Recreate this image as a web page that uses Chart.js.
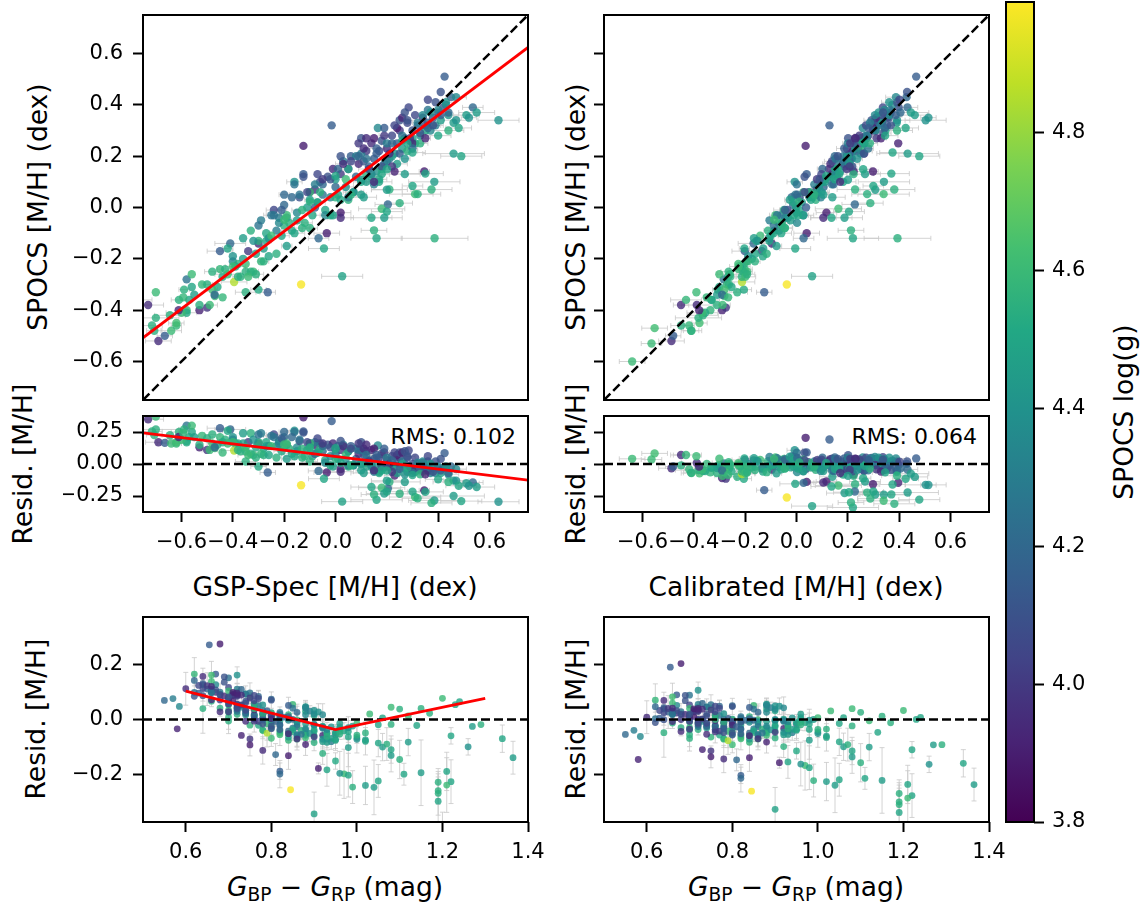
<!DOCTYPE html>
<html>
<head>
<meta charset="utf-8">
<script src="https://cdn.jsdelivr.net/npm/chart.js@4.4.1/dist/chart.umd.min.js"></script>
<style>
  html, body { margin: 0; padding: 0; background: #fff; }
  body { width: 1141px; height: 911px; position: relative; overflow: hidden; font-family: 'DejaVu Sans', sans-serif; color: #000; }
  canvas { position: absolute; }
  .lbl { position: absolute; font-size: 26.5px; line-height: 1; white-space: nowrap; transform: translate(-50%, -50%); }
  .rot { transform: translate(-50%, -50%) rotate(-90deg); }
  .rms { position: absolute; font-size: 22px; line-height: 1; white-space: nowrap; transform: translate(-100%, -50%); }
  .lbl sub { font-size: 70%; vertical-align: -0.3em; line-height: 0; }
</style>
</head>
<body>

<div class="lbl rot" style="left:38px;top:207px">SPOCS [M/H] (dex)</div>
<div class="lbl rot" style="left:576px;top:207px">SPOCS [M/H] (dex)</div>
<div class="lbl rot" style="left:23px;top:464px">Resid. [M/H]</div>
<div class="lbl rot" style="left:576px;top:464px">Resid. [M/H]</div>
<div class="lbl rot" style="left:36px;top:719px">Resid. [M/H]</div>
<div class="lbl rot" style="left:576px;top:719px">Resid. [M/H]</div>
<div class="lbl" style="left:335px;top:587px">GSP-Spec [M/H] (dex)</div>
<div class="lbl" style="left:796px;top:587px">Calibrated [M/H] (dex)</div>
<div class="lbl" style="left:335px;top:887px"><i>G</i><sub>BP</sub> − <i>G</i><sub>RP</sub> (mag)</div>
<div class="lbl" style="left:796px;top:887px"><i>G</i><sub>BP</sub> − <i>G</i><sub>RP</sub> (mag)</div>
<div class="lbl rot" style="left:1124px;top:412px">SPOCS log(g)</div>
<div class="rms" style="left:516px;top:437px">RMS: 0.102</div>
<div class="rms" style="left:977px;top:437px">RMS: 0.064</div>

<script>
// one entry per star, same order in every array
const gspMH = [
  -0.73, -0.69, -0.665, -0.64, -0.62, -0.62, -0.645, -0.61, -0.58, -0.58,
  -0.58, -0.59, -0.56, -0.53, -0.50, -0.53, -0.49, -0.52, -0.50, -0.47,
  -0.46, -0.48, -0.45, -0.43, -0.55, -0.57, -0.70, -0.60, -0.41, -0.45,
  -0.40, -0.40, -0.38, -0.35, -0.32, -0.35, -0.30, -0.34, -0.30, -0.33,
  -0.27, -0.27, -0.24, -0.20, -0.25, -0.22, -0.19, -0.15, -0.15, -0.36,
  -0.39, -0.44, -0.42, -0.31, -0.28, -0.26, -0.23, -0.21, -0.18, -0.17,
  -0.395, -0.33, -0.37, -0.29, -0.134, -0.264, -0.125, -0.015, -0.16, -0.16,
  -0.125, -0.125, -0.10, -0.08, -0.06, -0.05, -0.03, -0.01, 0.00, 0.02,
  0.03, 0.05, 0.06, 0.08, 0.09, -0.11, -0.09, -0.07, -0.04, -0.02,
  0.01, 0.04, 0.07, 0.02, 0.02, -0.034, -0.066, -0.045, 0.026, -0.13,
  -0.19, -0.12, 0.10, 0.05, 0.08, -0.14, -0.08, 0.00, 0.04, -0.06,
  0.11, 0.12, 0.13, 0.14, 0.15, 0.16, 0.17, 0.18, 0.19, 0.20,
  0.21, 0.22, 0.23, 0.24, 0.25, 0.26, 0.27, 0.28, 0.29, 0.30,
  0.31, 0.32, 0.33, 0.34, 0.12, 0.14, 0.16, 0.18, 0.20, 0.22,
  0.24, 0.26, 0.28, 0.30, 0.165, 0.10, 0.285, 0.25, 0.17, 0.23,
  0.27, 0.21, 0.204, 0.18, 0.14, 0.19, 0.16, 0.386, 0.11, 0.15,
  0.36, 0.37, 0.38, 0.39, 0.40, 0.41, 0.425, 0.42, 0.44, 0.45,
  0.46, 0.47, 0.48, 0.46, 0.49, 0.535, 0.635, 0.346, 0.385, 0.374,
  0.31, 0.32, 0.51, 0.52, 0.55, 0.43, 0.39, 0.36, -0.30, -0.10,
  0.05, -0.20, 0.12, -0.40, 0.26, 0.00, 0.35, -0.25, -0.05, 0.10,
  -0.22, 0.30,
  -0.984, -0.90, -0.916, -0.79, -0.715, -0.706, -0.775, -0.70, -0.611, -0.593,
  -0.56, -0.471,
  -0.48, -0.44, -0.42, -0.38, -0.36, -0.34, -0.32, -0.31, -0.29, -0.28,
  -0.26, -0.24, -0.23, -0.21, -0.19, -0.17, -0.16, -0.14, -0.13, -0.11,
  -0.10, -0.08, -0.07, -0.05, -0.04, -0.02, -0.01, 0.01, 0.02, 0.03,
  0.05, 0.06, 0.07, 0.09, 0.10, 0.11, 0.12, 0.13, 0.14, 0.15,
  0.16, 0.17, 0.18, 0.19, 0.20, 0.21, 0.22, 0.23, 0.24, 0.25,
  0.26, 0.27, 0.28, 0.29, 0.30, 0.31, 0.32, 0.33, 0.34, 0.35,
  0.36, 0.37, 0.38, 0.40, 0.41, 0.43, 0.44, 0.47, 0.33, 0.28,
  0.18, 0.06, -0.02, -0.10, 0.22, 0.15, 0.35, 0.40, 0.44, -0.35,
  0.02, 0.09, -0.07, 0.19, 0.27, 0.36, 0.41, -0.20, -0.30, 0.12,
  0.30, 0.20, 0.00, 0.10, 0.20, 0.25, 0.15, 0.35, -0.10, -0.20,
  0.30, 0.20
];
const spocsMH = [
  -0.38, -0.52, -0.50, -0.48, -0.46, -0.45, -0.42, -0.36, -0.40, -0.41,
  -0.28, -0.32, -0.31, -0.40, -0.39, -0.38, -0.38, -0.30, -0.30, -0.345,
  -0.31, -0.32, -0.24, -0.24, -0.34, -0.36, -0.43, -0.41, -0.14, -0.17,
  -0.19, -0.21, -0.22, -0.25, -0.25, -0.33, -0.32, -0.17, -0.14, -0.09,
  -0.10, -0.13, -0.01, 0.01, -0.03, -0.04, -0.04, -0.02, -0.05, -0.20,
  -0.23, -0.27, -0.26, -0.18, -0.16, -0.12, -0.09, -0.11, -0.06, -0.09,
  -0.29, -0.25, -0.27, -0.21, -0.30, -0.33, 0.24, 0.32, 0.10, 0.09,
  0.13, 0.12, 0.06, 0.07, 0.10, 0.05, 0.12, 0.15, 0.08, 0.13,
  0.18, 0.15, 0.20, 0.12, 0.17, 0.00, -0.03, 0.02, -0.01, 0.04,
  0.05, 0.08, 0.06, -0.02, -0.04, -0.10, -0.12, -0.16, -0.268, -0.01,
  -0.03, -0.06, 0.10, 0.03, 0.20, 0.04, 0.09, 0.11, 0.11, 0.06,
  0.18, 0.22, 0.16, 0.25, 0.19, 0.14, 0.22, 0.26, 0.17, 0.23,
  0.19, 0.28, 0.21, 0.25, 0.30, 0.23, 0.27, 0.33, 0.26, 0.30,
  0.25, 0.32, 0.28, 0.35, 0.10, 0.12, 0.21, 0.15, 0.18, 0.20,
  0.31, 0.28, 0.22, 0.27, 0.31, 0.27, 0.39, 0.34, 0.10, 0.14,
  0.13, 0.07, 0.012, -0.005, -0.04, -0.04, -0.12, -0.12, 0.04, 0.09,
  0.33, 0.30, 0.35, 0.32, 0.37, 0.34, 0.51, 0.39, 0.36, 0.43,
  0.33, 0.34, 0.31, 0.21, 0.20, 0.39, 0.34, 0.14, 0.10, 0.07,
  0.052, 0.052, 0.36, 0.35, 0.37, 0.40, 0.41, 0.38, -0.13, 0.06,
  0.15, -0.07, 0.13, -0.23, 0.26, 0.04, 0.30, -0.11, 0.09, 0.21,
  -0.06, 0.25,
  -0.60, -0.53, -0.47, -0.38, -0.46, -0.48, -0.36, -0.33, -0.40, -0.35,
  -0.26, -0.34,
  -0.25, -0.35, -0.16, -0.27, -0.12, -0.27, -0.13, -0.26, -0.05, -0.21,
  -0.19, -0.03, -0.18, -0.01, -0.15, 0.04, -0.10, 0.05, -0.08, 0.06,
  0.03, 0.00, 0.02, 0.11, -0.03, 0.11, -0.03, 0.15, 0.03, 0.17,
  0.04, 0.18, 0.06, 0.20, 0.05, 0.23, 0.19, 0.15, 0.13, 0.27,
  0.23, 0.11, 0.16, 0.28, 0.25, 0.21, 0.25, 0.32, 0.17, 0.21,
  0.35, 0.19, 0.34, 0.27, 0.23, 0.36, 0.33, 0.29, 0.36, 0.32,
  0.31, 0.37, 0.32, 0.38, 0.36, 0.41, 0.37, 0.43, 0.25, 0.25,
  0.13, 0.05, -0.03, -0.08, 0.16, 0.10, 0.27, 0.28, 0.30, -0.22,
  0.20, 0.25, 0.13, 0.31, 0.37, 0.42, 0.45, 0.05, -0.07, 0.27,
  0.214, 0.069, 0.123, 0.108, 0.149, 0.017, -0.089, 0.132, 0.023, -0.048,
  0.084, -0.016
];
const spocsLogg = [
  3.95, 3.95, 4.15, 4.60, 4.58, 4.62, 4.55, 4.55, 4.57, 4.52,
  4.25, 4.55, 4.50, 3.92, 3.98, 4.55, 4.60, 4.58, 4.55, 4.60,
  4.52, 4.62, 4.58, 4.55, 4.45, 4.50, 4.55, 4.60, 4.20, 4.15,
  4.40, 4.35, 4.55, 4.55, 4.60, 4.55, 4.52, 4.00, 3.95, 4.55,
  4.50, 4.50, 4.05, 4.20, 4.25, 4.30, 4.40, 4.35, 4.45, 4.45,
  4.50, 4.52, 4.60, 4.50, 4.45, 4.40, 4.30, 4.50, 4.55, 4.50,
  4.85, 4.55, 4.55, 4.58, 4.98, 4.15, 3.90, 4.15, 4.40, 4.25,
  4.15, 4.10, 4.00, 3.95, 4.10, 4.25, 4.10, 3.95, 4.20, 4.00,
  4.30, 4.05, 4.15, 4.20, 3.95, 4.45, 4.50, 4.45, 4.50, 4.35,
  4.45, 4.40, 4.50, 3.90, 3.95, 3.90, 4.20, 4.50, 4.48, 4.55,
  4.60, 4.55, 4.50, 4.55, 4.30, 4.10, 4.30, 4.45, 4.60, 4.55,
  4.10, 4.00, 4.20, 3.95, 4.15, 4.40, 4.05, 4.10, 4.30, 3.95,
  4.25, 4.05, 4.40, 4.15, 4.00, 4.45, 4.20, 4.05, 4.35, 4.10,
  4.50, 4.15, 4.40, 3.95, 4.45, 4.50, 4.15, 4.55, 4.30, 4.45,
  3.90, 4.25, 4.55, 4.45, 4.35, 4.10, 4.05, 4.10, 4.50, 3.92,
  4.45, 4.55, 4.20, 4.60, 4.50, 4.45, 4.50, 4.55, 4.45, 4.30,
  4.20, 4.35, 4.10, 4.30, 4.15, 4.45, 4.15, 4.10, 4.40, 4.20,
  4.45, 4.40, 4.50, 4.45, 4.50, 4.20, 4.40, 3.90, 4.45, 4.55,
  4.60, 4.55, 4.45, 4.40, 4.45, 4.35, 4.10, 4.25, 4.55, 4.60,
  4.50, 4.55, 4.55, 4.60, 4.50, 4.55, 4.50, 4.60, 4.20, 4.30,
  4.35, 3.92,
  4.60, 4.60, 4.62, 3.95, 4.55, 4.55, 4.58, 4.60, 3.92, 4.58,
  4.60, 4.20,
  4.55, 4.58, 4.50, 4.55, 4.45, 4.60, 4.40, 4.55, 4.30, 4.55,
  4.50, 4.25, 4.55, 4.15, 4.45, 4.20, 4.50, 4.25, 4.55, 4.05,
  4.45, 4.15, 4.50, 4.00, 4.35, 4.10, 4.45, 4.20, 4.50, 3.95,
  4.30, 4.05, 4.40, 4.20, 4.45, 3.95, 4.25, 4.00, 4.35, 3.90,
  4.15, 4.50, 4.10, 4.00, 4.30, 3.95, 4.20, 4.05, 4.45, 4.15,
  3.92, 4.40, 4.10, 4.00, 4.25, 4.05, 4.30, 4.10, 4.35, 4.15,
  4.20, 4.40, 4.10, 4.35, 4.15, 4.40, 4.20, 4.35, 4.55, 4.50,
  4.50, 4.55, 4.50, 4.55, 4.00, 3.95, 3.92, 4.50, 4.55, 4.60,
  4.10, 4.00, 4.05, 4.15, 4.10, 4.05, 4.10, 4.20, 4.25, 3.95,
  4.50, 4.45, 4.50, 4.45, 4.50, 4.55, 4.55, 4.50, 4.55, 4.60,
  4.50, 4.50
];
const bpRp = [
  0.60, 0.92, 0.95, 0.82, 0.88, 0.78, 0.70, 0.68, 0.75, 0.80,
  0.62, 0.66, 0.70, 0.73, 0.75, 0.78, 0.80, 0.70, 0.72, 0.82,
  0.77, 0.80, 0.72, 0.70, 0.74, 0.76, 0.64, 0.79, 0.65, 0.66,
  0.72, 0.74, 0.80, 0.85, 0.88, 0.92, 0.95, 0.70, 0.68, 0.66,
  0.72, 0.76, 0.64, 0.66, 0.68, 0.70, 0.73, 0.72, 0.78, 0.76,
  0.82, 0.84, 0.86, 0.82, 0.80, 0.78, 0.74, 0.86, 0.84, 0.90,
  0.79, 0.90, 0.95, 0.93, 0.845, 0.82, 0.68, 0.655, 0.72, 0.70,
  0.67, 0.69, 0.70, 0.66, 0.64, 0.72, 0.62, 0.67, 0.74, 0.70,
  0.66, 0.72, 0.63, 0.76, 0.72, 0.80, 0.86, 0.82, 0.90, 0.84,
  0.88, 0.86, 0.93, 0.75, 0.78, 0.84, 0.81, 0.93, 0.90, 0.88,
  0.85, 0.92, 0.96, 1.00, 0.70, 0.71, 0.68, 0.73, 0.80, 0.76,
  0.72, 0.68, 0.78, 0.69, 0.76, 0.88, 0.74, 0.70, 0.85, 0.78,
  0.86, 0.72, 0.90, 0.80, 0.73, 0.92, 0.83, 0.74, 0.90, 0.80,
  0.97, 0.82, 0.94, 0.76, 0.95, 0.98, 0.79, 0.96, 0.92, 0.99,
  0.71, 0.82, 1.02, 0.96, 0.67, 0.69, 0.70, 0.71, 1.05, 0.88,
  1.08, 1.10, 0.82, 0.97, 0.98, 1.02, 1.19, 1.20, 1.06, 0.94,
  0.85, 0.93, 0.82, 0.92, 0.84, 0.96, 0.64, 0.80, 0.98, 0.78,
  1.02, 1.00, 1.08, 1.15, 1.22, 0.93, 0.96, 0.91, 1.04, 1.19,
  1.21, 0.99, 1.12, 1.26, 0.98, 0.88, 0.76, 0.77, 1.10, 1.20,
  1.23, 1.17, 1.29, 1.12, 1.06, 1.08, 1.14, 1.03, 0.55, 0.57,
  0.585, 0.58,
  0.75, 0.72, 0.66, 0.64, 0.78, 0.70, 0.62, 0.66, 0.80, 0.76,
  0.70, 0.84,
  0.76, 0.84, 0.72, 0.82, 0.74, 0.86, 0.78, 0.90, 0.72, 0.88,
  0.84, 0.74, 0.86, 0.72, 0.84, 0.73, 0.85, 0.75, 0.87, 0.72,
  0.88, 0.76, 0.90, 0.71, 0.86, 0.74, 0.92, 0.77, 0.90, 0.73,
  0.86, 0.77, 0.89, 0.80, 0.93, 0.72, 0.85, 0.76, 0.88, 0.71,
  0.84, 0.95, 0.80, 0.75, 0.88, 0.74, 0.86, 0.76, 0.94, 0.82,
  0.72, 0.92, 0.80, 0.77, 0.87, 0.76, 0.89, 0.78, 0.88, 0.78,
  0.82, 0.90, 0.80, 0.90, 0.81, 0.91, 0.82, 0.92, 1.00, 1.05,
  0.98, 0.96, 0.95, 0.93, 0.90, 0.86, 0.84, 1.02, 1.07, 1.00,
  0.64, 0.65, 0.63, 0.66, 0.67, 0.68, 0.70, 0.62, 0.66, 0.66,
  1.34, 1.365, 1.24, 1.27, 1.22, 1.19, 1.19, 1.21, 1.15, 1.08,
  1.11, 1.05
];
const gspErr = [
  0.06, 0.05, 0.03, 0.04, 0.02, 0.03, 0.06, 0.03, 0, 0,
  0, 0.02, 0, 0, 0, 0, 0.03, 0, 0.02, 0,
  0, 0.02, 0, 0.03, 0, 0, 0.09, 0.06, 0.06, 0.05,
  0, 0, 0, 0, 0.02, 0.04, 0.03, 0, 0, 0,
  0, 0.02, 0.03, 0, 0.03, 0, 0, 0, 0.02, 0,
  0.04, 0, 0.05, 0, 0, 0, 0, 0.03, 0, 0.04,
  0.05, 0.02, 0, 0, 0, 0.03, 0, 0, 0.03, 0,
  0, 0, 0, 0, 0.02, 0, 0, 0, 0, 0,
  0, 0, 0, 0, 0, 0, 0, 0, 0, 0,
  0, 0.03, 0.04, 0.04, 0.05, 0.05, 0.04, 0.06, 0.08, 0.04,
  0, 0.03, 0.03, 0, 0, 0, 0, 0, 0, 0,
  0, 0, 0, 0, 0, 0, 0, 0, 0, 0,
  0, 0, 0, 0, 0, 0, 0, 0, 0, 0,
  0.03, 0, 0, 0, 0.03, 0.04, 0, 0, 0, 0,
  0, 0, 0.04, 0, 0, 0, 0, 0, 0.05, 0.04,
  0.06, 0.07, 0.05, 0.09, 0.08, 0.07, 0.10, 0.13, 0.05, 0,
  0, 0, 0, 0.03, 0, 0, 0, 0, 0.04, 0,
  0, 0.05, 0.05, 0.12, 0.08, 0.04, 0.08, 0.02, 0.10, 0.08,
  0.10, 0.06, 0.05, 0.03, 0.07, 0, 0, 0, 0, 0,
  0, 0, 0, 0, 0, 0, 0, 0, 0, 0,
  0, 0,
  0.05, 0.04, 0.05, 0.03, 0.04, 0.03, 0.06, 0, 0, 0,
  0, 0,
  0.03, 0, 0.02, 0.02, 0, 0.04, 0, 0.03, 0, 0.02,
  0, 0.03, 0, 0.02, 0.02, 0, 0.04, 0, 0.03, 0,
  0.02, 0, 0.03, 0, 0.04, 0, 0.02, 0.02, 0, 0.03,
  0, 0.03, 0.03, 0, 0.02, 0, 0.02, 0.04, 0, 0,
  0.03, 0.03, 0, 0.02, 0.02, 0, 0.03, 0, 0.04, 0,
  0, 0.02, 0.03, 0, 0.02, 0, 0.02, 0.03, 0, 0.02,
  0.02, 0, 0.03, 0, 0.02, 0.03, 0, 0.04, 0.03, 0,
  0.03, 0.02, 0.04, 0.03, 0.02, 0.03, 0.02, 0.05, 0.06, 0,
  0, 0, 0, 0, 0, 0, 0, 0.02, 0, 0,
  0.05, 0.06, 0, 0, 0.03, 0.05, 0.05, 0.07, 0, 0,
  0.04, 0.06
];

// red line of the top-left panel: SPOCS = a + b * GSP-Spec
const fitIntercept = 0.058;
const fitSlope = 0.754;
// red broken line of the bottom-left panel (colour term)
const colourKnots = [0.6, 0.95, 1.3];
const colourCorr = [0.104, -0.037, 0.077];

const mhLimits = [-0.75, 0.75];
const residLimits = [-0.375, 0.375];
const colourLimits = [0.5, 1.4];
const loggLimits = [3.8, 4.99];

const mhTicks = [-0.6, -0.4, -0.2, 0, 0.2, 0.4, 0.6];
const residTicks = [-0.25, 0, 0.25];
const colourResidTicks = [-0.2, 0, 0.2];
const colourTicks = [0.6, 0.8, 1.0, 1.2, 1.4];
const loggTicks = [3.8, 4.0, 4.2, 4.4, 4.6, 4.8];

const viridisStops = ['#440154', '#482475', '#414487', '#355f8d', '#2a788e', '#21918c',
  '#22a884', '#44bf70', '#7ad151', '#bddf26', '#fde725'];

// --- derived values ---
const linFit = gspMH.map(v => fitIntercept + fitSlope * v);
function colourTerm(b) {
  const i = b < colourKnots[1] ? 0 : 1;
  const k0 = colourKnots[i], k1 = colourKnots[i + 1];
  return colourCorr[i] + (colourCorr[i + 1] - colourCorr[i]) * (b - k0) / (k1 - k0);
}
const calibMH = linFit.map((v, i) => v + colourTerm(bpRp[i]));

function hexRgb(h) {
  return [1, 3, 5].map(p => parseInt(h.slice(p, p + 2), 16));
}
function viridis(t, alpha) {
  t = Math.min(1, Math.max(0, t)) * (viridisStops.length - 1);
  const i = Math.min(Math.floor(t), viridisStops.length - 2);
  const f = t - i;
  const a = hexRgb(viridisStops[i]), b = hexRgb(viridisStops[i + 1]);
  const c = a.map((v, k) => Math.round(v + (b[k] - v) * f));
  return `rgba(${c[0]},${c[1]},${c[2]},${alpha})`;
}
const pointColours = spocsLogg.map(g => viridis((g - loggLimits[0]) / (loggLimits[1] - loggLimits[0]), 0.8));

const fmt = (v, d) => v.toFixed(d).replace('-', '\u2212');

// --- layout ---
const AXIS_W = 80, AXIS_H = 60, PAD_T = 30, PAD_R = 34, PAD_B = 4;
const FONT = { family: 'DejaVu Sans', size: 21 };

function axis(pos, limits, ticks, dec, showLabels) {
  return {
    type: 'linear', position: pos, min: limits[0], max: limits[1],
    afterBuildTicks: s => { s.ticks = ticks.map(v => ({ value: v })); },
    afterFit: s => { if (pos === 'bottom') s.height = AXIS_H; else s.width = AXIS_W; },
    border: { display: false },
    grid: { drawOnChartArea: false, drawTicks: ticks.length > 0, tickLength: 10, tickWidth: 2, tickColor: '#000' },
    ticks: {
      display: showLabels, autoSkip: false, maxRotation: 0, minRotation: 0,
      padding: pos === 'bottom' ? 8 : 10, color: '#000', font: FONT,
      callback: v => fmt(v, dec)
    }
  };
}

const frameBox = {
  id: 'frameBox',
  afterDraw(chart) {
    const { ctx, chartArea: a } = chart;
    ctx.save();
    ctx.strokeStyle = '#000';
    ctx.lineWidth = 2;
    ctx.strokeRect(a.left, a.top, a.width, a.height);
    ctx.restore();
  }
};

function errorBars(points, errs, dir) {
  return {
    id: 'errorBars',
    beforeDatasetsDraw(chart) {
      const { ctx, chartArea: a, scales: { x, y } } = chart;
      ctx.save();
      ctx.beginPath();
      ctx.rect(a.left, a.top, a.width, a.height);
      ctx.clip();
      ctx.strokeStyle = 'rgba(200,200,200,0.8)';
      ctx.lineWidth = 1;
      points.forEach((p, i) => {
        const e = errs[i];
        if (!e) return;
        ctx.beginPath();
        if (dir === 'x') {
          const x0 = x.getPixelForValue(p.x - e), x1 = x.getPixelForValue(p.x + e);
          const py = y.getPixelForValue(p.y);
          ctx.moveTo(x0, py); ctx.lineTo(x1, py);
          ctx.moveTo(x0, py - 2.5); ctx.lineTo(x0, py + 2.5);
          ctx.moveTo(x1, py - 2.5); ctx.lineTo(x1, py + 2.5);
        } else {
          const y0 = y.getPixelForValue(p.y - e), y1 = y.getPixelForValue(p.y + e);
          const px = x.getPixelForValue(p.x);
          ctx.moveTo(px, y0); ctx.lineTo(px, y1);
          ctx.moveTo(px - 2.5, y0); ctx.lineTo(px + 2.5, y0);
          ctx.moveTo(px - 2.5, y1); ctx.lineTo(px + 2.5, y1);
        }
        ctx.stroke();
      });
      ctx.restore();
    }
  };
}

function dashed(pts) {
  return { type: 'line', data: pts, borderColor: '#000', borderWidth: 2.5, borderDash: [9, 4],
    pointRadius: 0, fill: false, order: 1, clip: 0 };
}
function redLine(pts) {
  return { type: 'line', data: pts, borderColor: '#ff0000', borderWidth: 2.8,
    pointRadius: 0, fill: false, order: 0, clip: 0 };
}

function makePanel(frame, cfg) {
  const w = AXIS_W + frame.w + PAD_R, h = PAD_T + frame.h + AXIS_H + PAD_B;
  const cv = document.createElement('canvas');
  cv.width = w; cv.height = h;
  Object.assign(cv.style, { left: (frame.x - AXIS_W) + 'px', top: (frame.y - PAD_T) + 'px', width: w + 'px', height: h + 'px' });
  document.body.appendChild(cv);
  const scatter = {
    type: 'scatter', data: cfg.points, backgroundColor: pointColours,
    pointRadius: cfg.radius, borderWidth: 0, order: 2, clip: 0
  };
  return new Chart(cv, {
    type: 'scatter',
    data: { datasets: [...cfg.lines, scatter] },
    options: {
      responsive: false, animation: false, devicePixelRatio: 1, events: [],
      layout: { padding: { left: 0, top: PAD_T, right: PAD_R, bottom: PAD_B } },
      plugins: { legend: { display: false }, tooltip: { enabled: false } },
      scales: { x: cfg.x, y: cfg.y }
    },
    plugins: [errorBars(cfg.points, gspErr, cfg.errDir), frameBox]
  });
}

const lo = mhLimits[0], hi = mhLimits[1];
const oneToOne = [{ x: lo, y: lo }, { x: hi, y: hi }];
const zeroMH = [{ x: lo, y: 0 }, { x: hi, y: 0 }];
const zeroColour = [{ x: colourLimits[0], y: 0 }, { x: colourLimits[1], y: 0 }];
const fitLine = mhLimits.map(v => ({ x: v, y: fitIntercept + fitSlope * v }));
const fitResid = mhLimits.map(v => ({ x: v, y: fitIntercept + (fitSlope - 1) * v }));
const colourLine = colourKnots.map((b, i) => ({ x: b, y: colourCorr[i] }));

const frames = {
  tl: { x: 143, y: 15, w: 385, h: 385 },
  tr: { x: 604, y: 15, w: 385, h: 385 },
  ml: { x: 143, y: 416, w: 385, h: 96 },
  mr: { x: 604, y: 416, w: 385, h: 96 },
  bl: { x: 143, y: 617, w: 385, h: 205 },
  br: { x: 604, y: 617, w: 385, h: 205 }
};

const R_TOP = 4.2, R_BOT = 3.4;

makePanel(frames.tl, {
  points: gspMH.map((v, i) => ({ x: v, y: spocsMH[i] })), radius: R_TOP, errDir: 'x',
  lines: [redLine(fitLine), dashed(oneToOne)],
  x: axis('bottom', mhLimits, [], 1, false), y: axis('left', mhLimits, mhTicks, 1, true)
});
makePanel(frames.tr, {
  points: calibMH.map((v, i) => ({ x: v, y: spocsMH[i] })), radius: R_TOP, errDir: 'x',
  lines: [dashed(oneToOne)],
  x: axis('bottom', mhLimits, [], 1, false), y: axis('left', mhLimits, mhTicks, 1, false)
});
makePanel(frames.ml, {
  points: gspMH.map((v, i) => ({ x: v, y: spocsMH[i] - v })), radius: R_TOP, errDir: 'x',
  lines: [redLine(fitResid), dashed(zeroMH)],
  x: axis('bottom', mhLimits, mhTicks, 1, true), y: axis('left', residLimits, residTicks, 2, true)
});
makePanel(frames.mr, {
  points: calibMH.map((v, i) => ({ x: v, y: spocsMH[i] - v })), radius: R_TOP, errDir: 'x',
  lines: [dashed(zeroMH)],
  x: axis('bottom', mhLimits, mhTicks, 1, true), y: axis('left', residLimits, residTicks, 2, false)
});
makePanel(frames.bl, {
  points: bpRp.map((b, i) => ({ x: b, y: spocsMH[i] - linFit[i] })), radius: R_BOT, errDir: 'y',
  lines: [redLine(colourLine), dashed(zeroColour)],
  x: axis('bottom', colourLimits, colourTicks, 1, true), y: axis('left', residLimits, colourResidTicks, 1, true)
});
makePanel(frames.br, {
  points: bpRp.map((b, i) => ({ x: b, y: spocsMH[i] - calibMH[i] })), radius: R_BOT, errDir: 'y',
  lines: [dashed(zeroColour)],
  x: axis('bottom', colourLimits, colourTicks, 1, true), y: axis('left', residLimits, colourResidTicks, 1, false)
});

// colour bar
(function () {
  const f = { x: 1006, y: 2, w: 28, h: 820 };
  const padL = 10, padT = 24, padB = 24, axW = 70;
  const w = padL + f.w + axW, h = padT + f.h + padB;
  const cv = document.createElement('canvas');
  cv.width = w; cv.height = h;
  Object.assign(cv.style, { left: (f.x - padL) + 'px', top: (f.y - padT) + 'px', width: w + 'px', height: h + 'px' });
  document.body.appendChild(cv);
  new Chart(cv, {
    type: 'bar',
    data: {
      labels: ['logg'],
      datasets: [{
        data: [loggLimits],
        barPercentage: 1, categoryPercentage: 1, borderWidth: 0,
        backgroundColor: c => {
          const a = c.chart.chartArea;
          if (!a) return '#000';
          const g = c.chart.ctx.createLinearGradient(0, a.bottom, 0, a.top);
          viridisStops.forEach((s, i) => g.addColorStop(i / (viridisStops.length - 1), s));
          return g;
        }
      }]
    },
    options: {
      responsive: false, animation: false, devicePixelRatio: 1, events: [],
      layout: { padding: { left: padL, top: padT, right: 0, bottom: padB } },
      plugins: { legend: { display: false }, tooltip: { enabled: false } },
      scales: {
        x: { display: false },
        y: {
          position: 'right', min: loggLimits[0], max: loggLimits[1],
          afterBuildTicks: s => { s.ticks = loggTicks.map(v => ({ value: v })); },
          afterFit: s => { s.width = axW; },
          border: { display: false },
          grid: { drawOnChartArea: false, tickLength: 10, tickWidth: 2, tickColor: '#000' },
          ticks: { autoSkip: false, padding: 8, color: '#000', font: FONT, callback: v => fmt(v, 1) }
        }
      }
    },
    plugins: [frameBox]
  });
})();
</script>
</body>
</html>
